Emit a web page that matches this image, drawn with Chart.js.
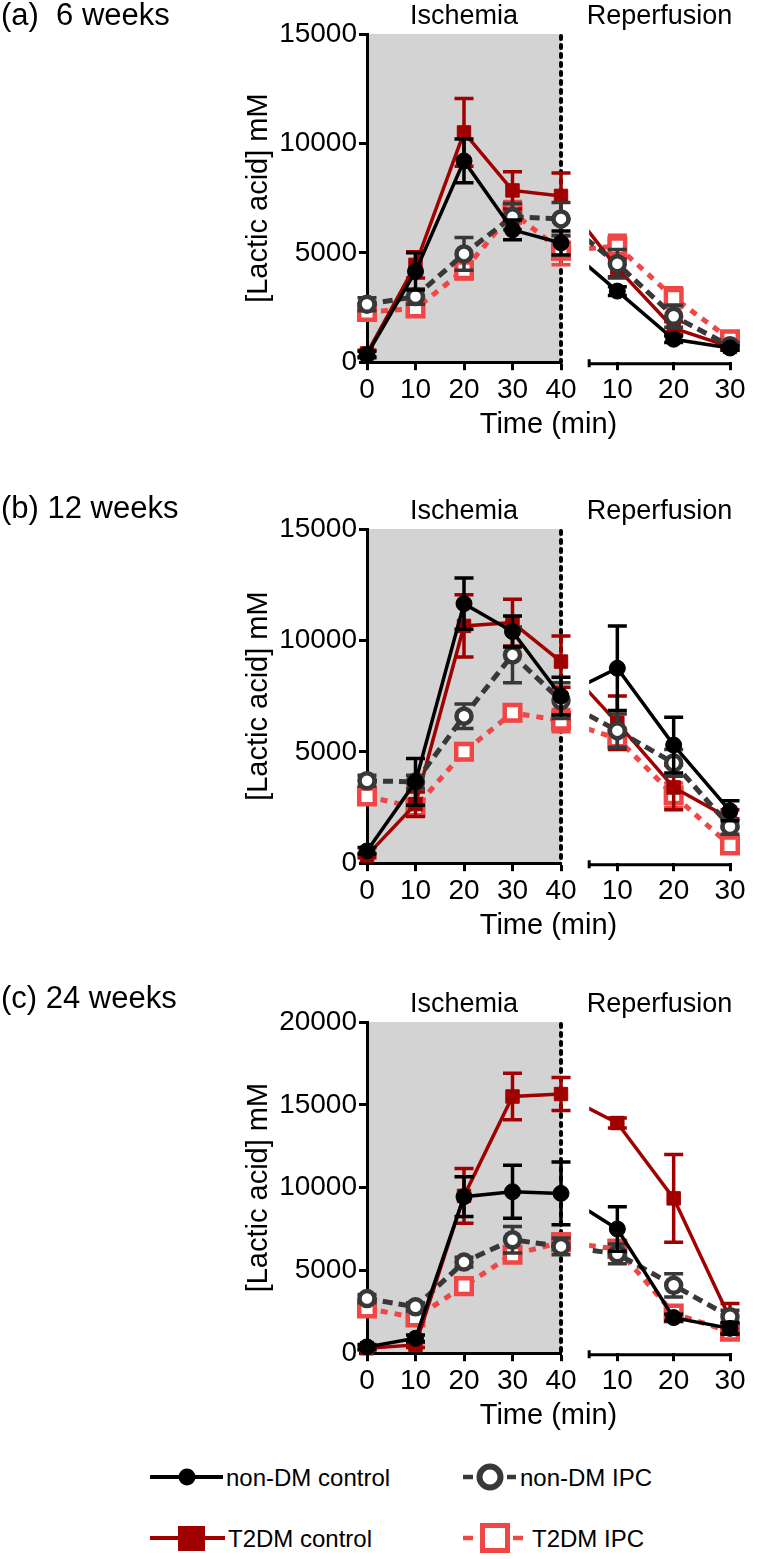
<!DOCTYPE html>
<html>
<head>
<meta charset="utf-8">
<script src="https://cdn.jsdelivr.net/npm/chart.js@4.4.0/dist/chart.umd.min.js"></script>
<style>
  body { margin: 0; background: #fff; }
  #page { position: relative; width: 758px; height: 1559px; font-family: "Liberation Sans", Arial, sans-serif; color: #000; }
  canvas { position: absolute; left: 0; }
  .panel-label { position: absolute; left: 1px; font-size: 31px; line-height: 30px; white-space: pre; }
  #legend { position: absolute; left: 0; top: 1440px; }
</style>
</head>
<body>
<div id="page">
  <canvas id="chartA" width="758" height="442" style="top:0px"></canvas>
  <canvas id="chartB" width="758" height="453" style="top:490px"></canvas>
  <canvas id="chartC" width="758" height="453" style="top:980px"></canvas>
  <div class="panel-label" style="top:0px">(a)  6 weeks</div>
  <div class="panel-label" style="top:493px">(b) 12 weeks</div>
  <div class="panel-label" style="top:983px">(c) 24 weeks</div>
  <svg id="legend" width="758" height="119"></svg>
</div>
<script>
// time points
const ischemiaTimes = [0, 10, 20, 30, 40];
const reperfusionTimes = [10, 20, 30];
const repAxisStart = 5; // reperfusion axis line starts after the break
const seriesNames = ['non-DM control', 'non-DM IPC', 'T2DM control', 'T2DM IPC'];

// values: ischemia 0,10,20,30,40 then reperfusion 10,20,30 (mean, SEM)
// (a) 6 weeks
const wk6NonDmCtl    = [350, 4150, 9200, 6050, 5450, 3250, 1050, 650];
const wk6NonDmCtlErr = [150, 850, 1000, 450, 550, 200, 150, 100];
const wk6NonDmIpc    = [2650, 3000, 4950, 6650, 6550, 4500, 2100, 750];
const wk6NonDmIpcErr = [300, 350, 750, 600, 750, 650, 500, 150];
const wk6T2dmCtl     = [400, 4450, 10500, 7850, 7600, 4300, 1550, 700];
const wk6T2dmCtlErr  = [150, 600, 1550, 850, 1050, 400, 300, 150];
const wk6T2dmIpc     = [2300, 2450, 4200, 6850, 5100, 5300, 2950, 1050];
const wk6T2dmIpcErr  = [250, 300, 400, 500, 650, 500, 450, 150];

// (b) 12 weeks
const wk12NonDmCtl    = [550, 3650, 11650, 10400, 7500, 8750, 5300, 2350];
const wk12NonDmCtlErr = [150, 1050, 1150, 700, 850, 1900, 1250, 450];
const wk12NonDmIpc    = [3700, 3650, 6600, 9350, 7300, 5950, 4500, 1650];
const wk12NonDmIpcErr = [250, 300, 550, 1250, 800, 750, 600, 350];
const wk12T2dmCtl     = [350, 2650, 10650, 10800, 9050, 6300, 3400, 2000];
const wk12T2dmCtlErr  = [100, 550, 1400, 1050, 1150, 1200, 1000, 400];
const wk12T2dmIpc     = [3000, 2500, 5000, 6750, 6400, 5600, 3050, 800];
const wk12T2dmIpcErr  = [250, 350, 300, 350, 500, 450, 550, 200];

// (c) 24 weeks
const wk24NonDmCtl    = [380, 900, 9450, 9750, 9650, 7500, 2150, 1500];
const wk24NonDmCtlErr = [150, 200, 1200, 1600, 1900, 1350, 200, 350];
const wk24NonDmIpc    = [3300, 2800, 5500, 6850, 6450, 6000, 4100, 2200];
const wk24NonDmIpcErr = [250, 250, 300, 800, 500, 600, 700, 400];
const wk24T2dmCtl     = [300, 500, 9500, 15500, 15650, 13900, 9350, 2100];
const wk24T2dmCtlErr  = [100, 150, 1650, 1400, 1000, 300, 2650, 900];
const wk24T2dmIpc     = [2700, 2150, 4050, 5950, 6700, 6300, 2400, 1300];
const wk24T2dmIpcErr  = [250, 300, 350, 450, 500, 500, 350, 300];

const FONT = '"Liberation Sans", Arial, sans-serif';
Chart.defaults.font.family = FONT;
Chart.defaults.color = '#000';

const seriesStyles = [
  { color: '#000000', dash: [], point: 'circle', radius: 8, fill: '#000000', width: 3.5, pBorder: 1 },
  { color: '#383838', dash: [10, 6], point: 'circle', radius: 7.5, fill: '#ffffff', width: 5, pBorder: 4.5 },
  { color: '#a00000', dash: [], point: 'rect', radius: 9.5, fill: '#a00000', width: 3.5, pBorder: 1 },
  { color: '#f04646', dash: [7, 7], point: 'rect', radius: 11, fill: '#ffffff', width: 5, pBorder: 4.5 }
];

function makeDatasets(means, errs) {
  const sets = [];
  means.forEach((m, s) => {
    const st = seriesStyles[s];
    const base = {
      label: seriesNames[s], borderColor: st.color, borderWidth: st.width, borderDash: st.dash,
      pointStyle: st.point, pointRadius: st.radius, pointBackgroundColor: st.fill,
      pointBorderColor: st.color, pointBorderWidth: st.pBorder, clip: false, order: s
    };
    sets.push(Object.assign({}, base, {
      xAxisID: 'xI',
      data: ischemiaTimes.map((t, i) => ({ x: t, y: m[i] })),
      errors: errs[s].slice(0, 5)
    }));
    // reperfusion starts from the 40 min ischemia value
    sets.push(Object.assign({}, base, {
      xAxisID: 'xR', reperfusion: true,
      data: [{ x: 0, y: m[4] }].concat(reperfusionTimes.map((t, i) => ({ x: t, y: m[5 + i] }))),
      errors: [null].concat(errs[s].slice(5))
    }));
  });
  return sets;
}

// grey ischemia band, dotted end line, broken reperfusion axis, error bars
const panelDecor = {
  id: 'panelDecor',
  beforeDraw(chart) {
    const { ctx, chartArea: a, scales: { xI } } = chart;
    ctx.save();
    ctx.fillStyle = '#d3d3d3';
    ctx.fillRect(a.left, a.top, xI.getPixelForValue(40) - a.left, a.bottom - a.top);
    ctx.restore();
  },
  beforeDatasetsDraw(chart) {
    const { ctx, chartArea: a, scales: { xI, xR } } = chart;
    const x40 = xI.getPixelForValue(40);
    const xStart = xR.getPixelForValue(repAxisStart);
    ctx.save();
    ctx.strokeStyle = '#000';
    ctx.lineWidth = 4;
    ctx.lineCap = 'round';
    ctx.setLineDash([3, 6]);
    ctx.beginPath();
    ctx.moveTo(x40, a.top + 2);
    ctx.lineTo(x40, a.bottom);
    ctx.stroke();
    ctx.lineCap = 'butt';
    ctx.setLineDash([]);
    ctx.lineWidth = 3;
    ctx.beginPath();
    ctx.moveTo(xStart, a.bottom + 1.5);
    ctx.lineTo(xR.right + 1.5, a.bottom + 1.5);
    ctx.moveTo(xStart, a.bottom - 3);
    ctx.lineTo(xStart, a.bottom + 5);
    ctx.stroke();
    ctx.fillStyle = '#000';
    ctx.font = '27px ' + FONT;
    ctx.textAlign = 'center';
    ctx.textBaseline = 'alphabetic';
    ctx.fillText('Ischemia', (a.left + x40) / 2, a.top - 10);
    ctx.fillText('Reperfusion', (xStart + xR.right) / 2, a.top - 10);
    ctx.restore();
  },
  beforeDatasetDraw(chart, args) {
    const ds = chart.data.datasets[args.index];
    const ctx = chart.ctx;
    const y = chart.scales.y;
    ctx.save();
    if (ds.reperfusion) {
      ctx.beginPath();
      ctx.rect(chart.scales.xR.getPixelForValue(repAxisStart), 0, chart.width, chart.height);
      ctx.clip();
    }
    ctx.strokeStyle = ds.borderColor;
    ctx.lineWidth = 3.5;
    ctx.setLineDash([]);
    ds.errors.forEach((e, i) => {
      if (e == null) return;
      const px = args.meta.data[i].x;
      const v = ds.data[i].y;
      const yt = y.getPixelForValue(v + e);
      const yb = y.getPixelForValue(Math.max(v - e, 0));
      ctx.beginPath();
      ctx.moveTo(px, yt); ctx.lineTo(px, yb);
      ctx.moveTo(px - 9.5, yt); ctx.lineTo(px + 9.5, yt);
      ctx.moveTo(px - 9.5, yb); ctx.lineTo(px + 9.5, yb);
      ctx.stroke();
    });
  },
  afterDatasetDraw(chart) {
    chart.ctx.restore();
  }
};

const axisGrid = { drawOnChartArea: false, drawTicks: true, tickLength: 8, tickWidth: 3, tickColor: '#000' };
const tickFont = { size: 28 };

function buildChart(id, means, errs, yMax, padTop) {
  return new Chart(document.getElementById(id), {
    type: 'line',
    data: { datasets: makeDatasets(means, errs) },
    options: {
      responsive: false,
      animation: false,
      layout: { padding: { left: 0, right: 28, top: padTop, bottom: 0 } },
      plugins: {
        legend: { display: false },
        tooltip: { enabled: false },
        title: {
          display: true, text: 'Time (min)', position: 'bottom', fullSize: false,
          color: '#000', font: { size: 29, weight: 'normal' }, padding: { top: 2, bottom: 0 }
        }
      },
      scales: {
        xI: {
          type: 'linear', position: 'bottom', stack: 'time', stackWeight: 194,
          min: 0, max: 40,
          grid: axisGrid,
          border: { display: true, width: 3, color: '#000' },
          ticks: { stepSize: 10, font: tickFont, padding: 3, autoSkip: false, maxRotation: 0 },
          afterFit: s => { s.height = 43; }
        },
        xR: {
          type: 'linear', position: 'bottom', stack: 'time', stackWeight: 169,
          min: 0, max: 30,
          grid: axisGrid,
          border: { display: false },
          ticks: { font: tickFont, padding: 3, autoSkip: false, maxRotation: 0 },
          afterBuildTicks: s => { s.ticks = reperfusionTimes.map(v => ({ value: v })); },
          afterFit: s => { s.height = 43; }
        },
        y: {
          type: 'linear', position: 'left', min: 0, max: yMax,
          grid: axisGrid,
          border: { display: true, width: 3, color: '#000' },
          ticks: { stepSize: 5000, font: tickFont, padding: 2, callback: v => String(v) },
          title: {
            display: true, text: '[Lactic acid] mM', color: '#000',
            font: { size: 29 }, padding: { top: 242, bottom: 0 }
          },
          afterFit: s => { s.width = 367; }
        }
      }
    },
    plugins: [panelDecor]
  });
}

buildChart('chartA',
  [wk6NonDmCtl, wk6NonDmIpc, wk6T2dmCtl, wk6T2dmIpc],
  [wk6NonDmCtlErr, wk6NonDmIpcErr, wk6T2dmCtlErr, wk6T2dmIpcErr], 15000, 34);
buildChart('chartB',
  [wk12NonDmCtl, wk12NonDmIpc, wk12T2dmCtl, wk12T2dmIpc],
  [wk12NonDmCtlErr, wk12NonDmIpcErr, wk12T2dmCtlErr, wk12T2dmIpcErr], 15000, 39);
buildChart('chartC',
  [wk24NonDmCtl, wk24NonDmIpc, wk24T2dmCtl, wk24T2dmIpc],
  [wk24NonDmCtlErr, wk24NonDmIpcErr, wk24T2dmCtlErr, wk24T2dmIpcErr], 20000, 42);

// legend (2 x 2)
const legendSvg = document.getElementById('legend');
const s = seriesStyles;
legendSvg.innerHTML = `
  <line x1="150" y1="37" x2="223" y2="37" stroke="${s[0].color}" stroke-width="4"/>
  <circle cx="187" cy="37" r="8.5" fill="${s[0].color}"/>
  <text x="226" y="46" font-size="24" font-family='${FONT}'>${seriesNames[0]}</text>

  <line x1="463" y1="37" x2="473" y2="37" stroke="${s[1].color}" stroke-width="4.5"/>
  <circle cx="490" cy="37" r="10.5" fill="#fff" stroke="${s[1].color}" stroke-width="6"/>
  <line x1="507" y1="37" x2="516" y2="37" stroke="${s[1].color}" stroke-width="4.5"/>
  <text x="520" y="46" font-size="24" font-family='${FONT}'>${seriesNames[1]}</text>

  <line x1="150" y1="98" x2="225" y2="98" stroke="${s[2].color}" stroke-width="4"/>
  <rect x="178" y="86" width="27" height="25" fill="${s[2].color}"/>
  <text x="228" y="107" font-size="24" font-family='${FONT}'>${seriesNames[2]}</text>

  <line x1="463" y1="98" x2="473" y2="98" stroke="${s[3].color}" stroke-width="4.5"/>
  <rect x="482.5" y="85.5" width="25" height="25" fill="#fff" stroke="${s[3].color}" stroke-width="5"/>
  <line x1="513" y1="98" x2="523" y2="98" stroke="${s[3].color}" stroke-width="4.5"/>
  <text x="532" y="107" font-size="24" font-family='${FONT}'>${seriesNames[3]}</text>
`;
</script>
</body>
</html>
